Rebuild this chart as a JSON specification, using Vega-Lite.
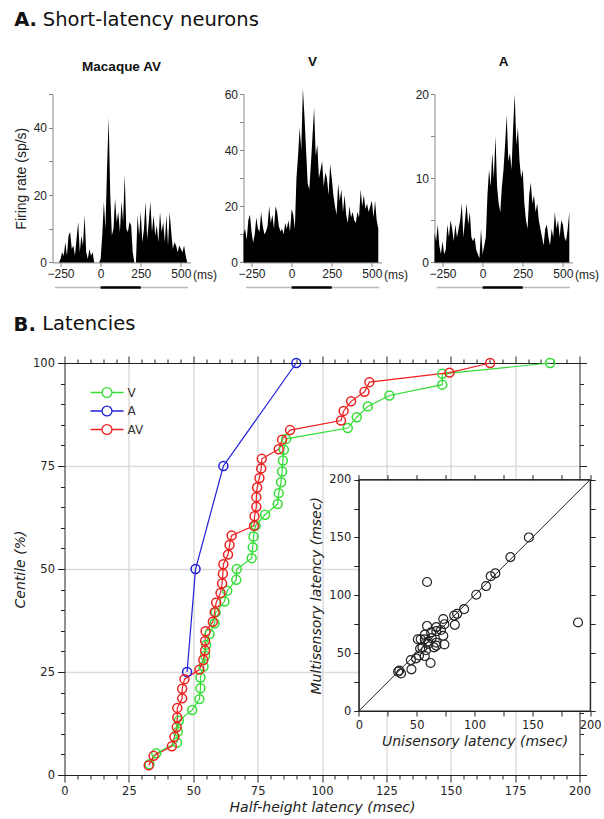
{
  "$schema": "https://vega.github.io/schema/vega-lite/v6.json",
  "padding": {"left": 13.5, "top": 9, "right": 10, "bottom": 0},
  "background": "white",
  "config": {
    "view": {"stroke": null},
    "font": "DejaVu Sans",
    "axis": {"labelColor": "#222", "titleColor": "#222", "domainColor": "#222", "tickColor": "#222", "grid": false, "titleFontWeight": "normal"}
  },
  "datasets": {
    "psth1": [
      {"t":-260,"r":0},{"t":-250,"r":1},{"t":-240,"r":3},{"t":-230,"r":2},{"t":-220,"r":6},{"t":-210,"r":2},{"t":-200,"r":8},{"t":-190,"r":9},{"t":-180,"r":4},{"t":-170,"r":5},{"t":-160,"r":2},{"t":-150,"r":7},{"t":-140,"r":12},{"t":-130,"r":3},{"t":-120,"r":8},{"t":-110,"r":5},{"t":-100,"r":14},{"t":-90,"r":3},{"t":-80,"r":1},{"t":-70,"r":4},{"t":-60,"r":2},{"t":-50,"r":3},{"t":-40,"r":0},{"t":-30,"r":0},{"t":-20,"r":0},{"t":-10,"r":0},
      {"t":0,"r":1},{"t":10,"r":8},{"t":20,"r":18},{"t":30,"r":10},{"t":40,"r":28},{"t":50,"r":43},{"t":60,"r":20},{"t":70,"r":8},{"t":80,"r":10},{"t":90,"r":19},{"t":100,"r":12},{"t":110,"r":15},{"t":120,"r":9},{"t":130,"r":18},{"t":140,"r":12},{"t":150,"r":26},{"t":160,"r":10},{"t":170,"r":9},{"t":180,"r":12},{"t":190,"r":11},{"t":200,"r":3},{"t":210,"r":0},{"t":220,"r":0},{"t":230,"r":14},{"t":240,"r":8},{"t":250,"r":15},{"t":260,"r":6},{"t":270,"r":10},{"t":280,"r":18},{"t":290,"r":7},{"t":300,"r":12},{"t":310,"r":18},{"t":320,"r":9},{"t":330,"r":14},{"t":340,"r":8},{"t":350,"r":11},{"t":360,"r":6},{"t":370,"r":15},{"t":380,"r":9},{"t":390,"r":12},{"t":400,"r":6},{"t":410,"r":14},{"t":420,"r":5},{"t":430,"r":15},{"t":440,"r":9},{"t":450,"r":4},{"t":460,"r":6},{"t":470,"r":5},{"t":480,"r":3},{"t":490,"r":5},{"t":500,"r":4},{"t":510,"r":3},{"t":520,"r":5},{"t":530,"r":2},{"t":540,"r":0}
    ],
    "psth2": [
      {"t":-300,"r":10},{"t":-290,"r":12},{"t":-280,"r":8},{"t":-270,"r":15},{"t":-260,"r":17},{"t":-250,"r":11},{"t":-240,"r":7},{"t":-230,"r":10},{"t":-220,"r":16},{"t":-210,"r":12},{"t":-200,"r":11},{"t":-190,"r":18},{"t":-180,"r":13},{"t":-170,"r":10},{"t":-160,"r":11},{"t":-150,"r":13},{"t":-140,"r":20},{"t":-130,"r":14},{"t":-120,"r":17},{"t":-110,"r":12},{"t":-100,"r":20},{"t":-90,"r":18},{"t":-80,"r":13},{"t":-70,"r":11},{"t":-60,"r":12},{"t":-50,"r":10},{"t":-40,"r":14},{"t":-30,"r":12},{"t":-20,"r":15},{"t":-10,"r":11},
      {"t":0,"r":19},{"t":10,"r":17},{"t":20,"r":12},{"t":30,"r":30},{"t":40,"r":38},{"t":50,"r":48},{"t":60,"r":40},{"t":70,"r":62},{"t":80,"r":52},{"t":90,"r":40},{"t":100,"r":28},{"t":110,"r":26},{"t":120,"r":35},{"t":130,"r":45},{"t":140,"r":55},{"t":150,"r":38},{"t":160,"r":42},{"t":170,"r":30},{"t":180,"r":33},{"t":190,"r":36},{"t":200,"r":27},{"t":210,"r":32},{"t":220,"r":30},{"t":230,"r":24},{"t":240,"r":35},{"t":250,"r":30},{"t":260,"r":24},{"t":270,"r":20},{"t":280,"r":17},{"t":290,"r":28},{"t":300,"r":22},{"t":310,"r":26},{"t":320,"r":18},{"t":330,"r":24},{"t":340,"r":17},{"t":350,"r":14},{"t":360,"r":20},{"t":370,"r":16},{"t":380,"r":18},{"t":390,"r":15},{"t":400,"r":14},{"t":410,"r":18},{"t":420,"r":16},{"t":430,"r":26},{"t":440,"r":20},{"t":450,"r":24},{"t":460,"r":19},{"t":470,"r":21},{"t":480,"r":18},{"t":490,"r":20},{"t":500,"r":22},{"t":510,"r":16},{"t":520,"r":22},{"t":530,"r":15},{"t":540,"r":12}
    ],
    "psth3": [
      {"t":-300,"r":3.5},{"t":-290,"r":2.5},{"t":-280,"r":4.5},{"t":-270,"r":2},{"t":-260,"r":1},{"t":-250,"r":2.5},{"t":-240,"r":1},{"t":-230,"r":1.5},{"t":-220,"r":4.5},{"t":-210,"r":3},{"t":-200,"r":5},{"t":-190,"r":4},{"t":-180,"r":2.5},{"t":-170,"r":4.5},{"t":-160,"r":3},{"t":-150,"r":4},{"t":-140,"r":5},{"t":-130,"r":7},{"t":-120,"r":3},{"t":-110,"r":5},{"t":-100,"r":7},{"t":-90,"r":4.5},{"t":-80,"r":6},{"t":-70,"r":3},{"t":-60,"r":2.5},{"t":-50,"r":3},{"t":-40,"r":1.5},{"t":-30,"r":1},{"t":-20,"r":0.5},{"t":-10,"r":4},
      {"t":0,"r":1},{"t":10,"r":2},{"t":20,"r":3},{"t":30,"r":8},{"t":40,"r":11},{"t":50,"r":9},{"t":60,"r":13},{"t":70,"r":10},{"t":80,"r":15},{"t":90,"r":9},{"t":100,"r":7},{"t":110,"r":6},{"t":120,"r":9},{"t":130,"r":11},{"t":140,"r":14},{"t":150,"r":17.5},{"t":160,"r":12},{"t":170,"r":13},{"t":180,"r":11},{"t":190,"r":16},{"t":200,"r":20},{"t":210,"r":14},{"t":220,"r":16},{"t":230,"r":12},{"t":240,"r":10},{"t":250,"r":11},{"t":260,"r":7},{"t":270,"r":5},{"t":280,"r":4},{"t":290,"r":8},{"t":300,"r":9.5},{"t":310,"r":7},{"t":320,"r":8},{"t":330,"r":6},{"t":340,"r":7},{"t":350,"r":5},{"t":360,"r":4},{"t":370,"r":3},{"t":380,"r":2},{"t":390,"r":4},{"t":400,"r":4.5},{"t":410,"r":3},{"t":420,"r":2},{"t":430,"r":4},{"t":440,"r":3},{"t":450,"r":6},{"t":460,"r":4},{"t":470,"r":5},{"t":480,"r":3},{"t":490,"r":5},{"t":500,"r":4.5},{"t":510,"r":3},{"t":520,"r":2.5},{"t":530,"r":4},{"t":540,"r":6}
    ],
    "stripBase": [{"a": -285, "b": 545}],
    "stripStim": [{"a": 0, "b": 250}],
    "lat": [
      {"s":"V","k":1,"x":33.0,"c":2.63},{"s":"V","k":2,"x":35.6,"c":5.26},{"s":"V","k":3,"x":43.7,"c":7.89},{"s":"V","k":4,"x":44.0,"c":10.53},{"s":"V","k":5,"x":44.4,"c":13.16},{"s":"V","k":6,"x":49.6,"c":15.79},{"s":"V","k":7,"x":52.4,"c":18.42},{"s":"V","k":8,"x":52.8,"c":21.05},{"s":"V","k":9,"x":52.8,"c":23.68},{"s":"V","k":10,"x":54.0,"c":26.32},
      {"s":"V","k":11,"x":54.6,"c":28.95},{"s":"V","k":12,"x":55.0,"c":31.58},{"s":"V","k":13,"x":56.3,"c":34.21},{"s":"V","k":14,"x":58.3,"c":36.84},{"s":"V","k":15,"x":58.7,"c":39.47},{"s":"V","k":16,"x":62.1,"c":42.11},{"s":"V","k":17,"x":63.2,"c":44.74},{"s":"V","k":18,"x":66.7,"c":47.37},{"s":"V","k":19,"x":66.9,"c":50.0},{"s":"V","k":20,"x":72.7,"c":52.63},
      {"s":"V","k":21,"x":73.1,"c":55.26},{"s":"V","k":22,"x":73.4,"c":57.89},{"s":"V","k":23,"x":74.2,"c":60.53},{"s":"V","k":24,"x":77.9,"c":63.16},{"s":"V","k":25,"x":82.8,"c":65.79},{"s":"V","k":26,"x":83.2,"c":68.42},{"s":"V","k":27,"x":84.1,"c":71.05},{"s":"V","k":28,"x":84.5,"c":73.68},{"s":"V","k":29,"x":84.8,"c":76.32},{"s":"V","k":30,"x":85.2,"c":78.95},
      {"s":"V","k":31,"x":86.1,"c":81.58},{"s":"V","k":32,"x":110.0,"c":84.21},{"s":"V","k":33,"x":113.5,"c":86.84},{"s":"V","k":34,"x":117.8,"c":89.47},{"s":"V","k":35,"x":126.2,"c":92.11},{"s":"V","k":36,"x":146.7,"c":94.74},{"s":"V","k":37,"x":146.7,"c":97.37},{"s":"V","k":38,"x":188.6,"c":100},
      {"s":"A","k":1,"x":47.6,"c":25},{"s":"A","k":2,"x":50.9,"c":50},{"s":"A","k":3,"x":61.7,"c":75},{"s":"A","k":4,"x":90.0,"c":100},
      {"s":"AV","k":1,"x":32.7,"c":2.33},{"s":"AV","k":2,"x":34.6,"c":4.65},{"s":"AV","k":3,"x":41.7,"c":6.98},{"s":"AV","k":4,"x":42.7,"c":9.30},{"s":"AV","k":5,"x":43.6,"c":11.63},{"s":"AV","k":6,"x":43.8,"c":13.95},{"s":"AV","k":7,"x":43.8,"c":16.28},{"s":"AV","k":8,"x":45.7,"c":18.60},{"s":"AV","k":9,"x":45.7,"c":20.93},{"s":"AV","k":10,"x":46.6,"c":23.26},
      {"s":"AV","k":11,"x":52.4,"c":25.58},{"s":"AV","k":12,"x":53.9,"c":27.91},{"s":"AV","k":13,"x":54.6,"c":30.23},{"s":"AV","k":14,"x":54.6,"c":32.56},{"s":"AV","k":15,"x":54.8,"c":34.88},{"s":"AV","k":16,"x":57.6,"c":37.21},{"s":"AV","k":17,"x":58.3,"c":39.53},{"s":"AV","k":18,"x":58.9,"c":41.86},{"s":"AV","k":19,"x":60.6,"c":44.19},{"s":"AV","k":20,"x":61.2,"c":46.51},
      {"s":"AV","k":21,"x":61.5,"c":48.84},{"s":"AV","k":22,"x":61.7,"c":51.16},{"s":"AV","k":23,"x":63.5,"c":53.49},{"s":"AV","k":24,"x":64.1,"c":55.81},{"s":"AV","k":25,"x":64.9,"c":58.14},{"s":"AV","k":26,"x":73.6,"c":60.47},{"s":"AV","k":27,"x":73.8,"c":62.79},{"s":"AV","k":28,"x":74.5,"c":65.12},{"s":"AV","k":29,"x":74.5,"c":67.44},{"s":"AV","k":30,"x":74.8,"c":69.77},
      {"s":"AV","k":31,"x":75.7,"c":72.09},{"s":"AV","k":32,"x":76.4,"c":74.42},{"s":"AV","k":33,"x":76.6,"c":76.74},{"s":"AV","k":34,"x":83.2,"c":79.07},{"s":"AV","k":35,"x":84.5,"c":81.40},{"s":"AV","k":36,"x":87.6,"c":83.72},{"s":"AV","k":37,"x":107.4,"c":86.05},{"s":"AV","k":38,"x":108.4,"c":88.37},{"s":"AV","k":39,"x":111.3,"c":90.70},{"s":"AV","k":40,"x":116.5,"c":93.02},
      {"s":"AV","k":41,"x":118.4,"c":95.35},{"s":"AV","k":42,"x":149.5,"c":97.67},{"s":"AV","k":43,"x":165.3,"c":100}
    ],
    "inset": [
      {"u":35,"m":35},{"u":36.5,"m":32.5},{"u":34,"m":34},{"u":45.5,"m":36},{"u":45,"m":44},{"u":49.5,"m":45.5},{"u":52,"m":48},{"u":57,"m":47.5},{"u":62,"m":41.5},{"u":53,"m":54},{"u":55,"m":55},{"u":58,"m":52.5},{"u":60,"m":58},{"u":65,"m":55},{"u":67,"m":56.5},{"u":74,"m":57.5},{"u":53.5,"m":62},{"u":57,"m":62},{"u":60,"m":60},{"u":63,"m":63},{"u":67,"m":59},{"u":51,"m":62},{"u":62.5,"m":68},{"u":57,"m":66},{"u":67,"m":69},{"u":73,"m":65},{"u":59,"m":73.5},{"u":67,"m":72.5},{"u":71,"m":70},{"u":73,"m":79.5},{"u":74,"m":75},{"u":83,"m":74.5},{"u":82.5,"m":82.5},{"u":85,"m":84},{"u":91,"m":88},{"u":101.5,"m":100.5},{"u":110,"m":108},{"u":114,"m":116.5},{"u":118,"m":119},{"u":131,"m":133},{"u":147,"m":150},{"u":59,"m":111.5},{"u":189.5,"m":76.5}
    ],
    "box": [{"x0": 0, "x1": 200, "y0": 0, "y1": 200}],
    "diag": [{"u": 0, "m": 0}, {"u": 200, "m": 200}]
  },
  "spacing": 25,
  "vconcat": [
    {
      "title": {"text": "A.", "subtitle": "\u200b\u00a0\u00a0\u00a0\u00a0\u2009Short-latency neurons", "anchor": "start", "font": "DejaVu Sans", "fontSize": 19.5, "fontWeight": "bold", "color": "#111", "subtitleFont": "DejaVu Sans", "subtitleFontSize": 19.5, "subtitleColor": "#111", "lineHeight": 20, "subtitleLineHeight": 20, "subtitlePadding": -20, "offset": 23.5},
      "bounds": "flush",
      "spacing": 53,
      "hconcat": [
        {
          "width": 138, "height": 168.4,
          "title": {"text": "Macaque AV", "font": "Liberation Sans", "fontSize": 13.5, "fontWeight": "bold", "color": "#111", "offset": 20, "dx": -12},
          "layer": [
            {"mark": {"type": "rule", "color": "#d4d4d4", "strokeWidth": 1}, "encoding": {"x": {"datum": 0, "type": "quantitative", "scale": {"domain": [-300, 560], "range": [-12, 126], "nice": false}}}},
            {"data": {"name": "psth1"}, "mark": {"type": "area", "color": "#000", "interpolate": "linear"},
             "encoding": {
               "x": {"field": "t", "type": "quantitative", "scale": {"domain": [-300, 560], "range": [-12, 126], "nice": false},
                     "axis": {"values": [-250, 0, 250, 500], "title": "(ms)", "titleX": 140, "titleY": 16, "titleAlign": "center", "titleBaseline": "alphabetic", "titleFont": "Liberation Sans", "titleFontSize": 12, "labelFont": "Liberation Sans", "labelFontSize": 12, "tickSize": 4, "labelPadding": 2, "domainColor": "#888", "tickColor": "#888", "labelFlush": false}},
               "y": {"field": "r", "type": "quantitative", "scale": {"domain": [0, 50], "nice": false},
                     "axis": {"offset": 12, "values": [0, 10, 20, 30, 40, 50], "labelExpr": "datum.value % 20 === 0 ? datum.label : ''", "title": "Firing rate (sp/s)", "titleFont": "Liberation Sans", "titleFontSize": 14, "titlePadding": 5, "labelFont": "Liberation Sans", "labelFontSize": 12, "tickSize": 4, "labelPadding": 2, "domainColor": "#888", "tickColor": "#888"}}
             }},
            {"data": {"name": "stripBase"}, "mark": {"type": "rule", "color": "#b8b8b8", "strokeWidth": 1.5},
             "encoding": {"x": {"field": "a", "type": "quantitative"}, "x2": {"field": "b"}, "y": {"datum": 0, "type": "quantitative", "scale": {"domain": [0, 1], "range": [193.4, 193.4]}, "axis": null}}},
            {"data": {"name": "stripStim"}, "mark": {"type": "rule", "color": "#000", "strokeWidth": 2.5},
             "encoding": {"x": {"field": "a", "type": "quantitative"}, "x2": {"field": "b"}, "y": {"datum": 0, "type": "quantitative", "scale": {"domain": [0, 1], "range": [193.4, 193.4]}, "axis": null}}}
          ],
          "resolve": {"scale": {"y": "independent"}}
        },
        {
          "width": 138, "height": 168.4,
          "title": {"text": "V", "font": "Liberation Sans", "fontSize": 13.5, "fontWeight": "bold", "color": "#111", "offset": 20, "dx": -12},
          "layer": [
            {"mark": {"type": "rule", "color": "#999", "strokeWidth": 1, "strokeDash": [1, 2]}, "encoding": {"x": {"datum": 0, "type": "quantitative", "scale": {"domain": [-300, 560], "range": [-12, 126], "nice": false}}}},
            {"data": {"name": "psth2"}, "mark": {"type": "area", "color": "#000", "interpolate": "linear"},
             "encoding": {
               "x": {"field": "t", "type": "quantitative", "scale": {"domain": [-300, 560], "range": [-12, 126], "nice": false},
                     "axis": {"values": [-250, 0, 250, 500], "title": "(ms)", "titleX": 140, "titleY": 16, "titleAlign": "center", "titleBaseline": "alphabetic", "titleFont": "Liberation Sans", "titleFontSize": 12, "labelFont": "Liberation Sans", "labelFontSize": 12, "tickSize": 4, "labelPadding": 2, "domainColor": "#888", "tickColor": "#888", "labelFlush": false}},
               "y": {"field": "r", "type": "quantitative", "scale": {"domain": [0, 60], "nice": false},
                     "axis": {"offset": 12, "values": [0, 10, 20, 30, 40, 50, 60], "labelExpr": "datum.value % 20 === 0 ? datum.label : ''", "title": null, "labelFont": "Liberation Sans", "labelFontSize": 12, "tickSize": 4, "labelPadding": 2, "domainColor": "#888", "tickColor": "#888"}}
             }},
            {"data": {"name": "stripBase"}, "mark": {"type": "rule", "color": "#b8b8b8", "strokeWidth": 1.5},
             "encoding": {"x": {"field": "a", "type": "quantitative"}, "x2": {"field": "b"}, "y": {"datum": 0, "type": "quantitative", "scale": {"domain": [0, 1], "range": [193.4, 193.4]}, "axis": null}}},
            {"data": {"name": "stripStim"}, "mark": {"type": "rule", "color": "#000", "strokeWidth": 2.5},
             "encoding": {"x": {"field": "a", "type": "quantitative"}, "x2": {"field": "b"}, "y": {"datum": 0, "type": "quantitative", "scale": {"domain": [0, 1], "range": [193.4, 193.4]}, "axis": null}}}
          ],
          "resolve": {"scale": {"y": "independent"}}
        },
        {
          "width": 138, "height": 168.4,
          "title": {"text": "A", "font": "Liberation Sans", "fontSize": 13.5, "fontWeight": "bold", "color": "#111", "offset": 20, "dx": -12},
          "layer": [
            {"mark": {"type": "rule", "color": "#d4d4d4", "strokeWidth": 1}, "encoding": {"x": {"datum": 0, "type": "quantitative", "scale": {"domain": [-300, 560], "range": [-12, 126], "nice": false}}}},
            {"data": {"name": "psth3"}, "mark": {"type": "area", "color": "#000", "interpolate": "linear"},
             "encoding": {
               "x": {"field": "t", "type": "quantitative", "scale": {"domain": [-300, 560], "range": [-12, 126], "nice": false},
                     "axis": {"values": [-250, 0, 250, 500], "title": "(ms)", "titleX": 140, "titleY": 16, "titleAlign": "center", "titleBaseline": "alphabetic", "titleFont": "Liberation Sans", "titleFontSize": 12, "labelFont": "Liberation Sans", "labelFontSize": 12, "tickSize": 4, "labelPadding": 2, "domainColor": "#888", "tickColor": "#888", "labelFlush": false}},
               "y": {"field": "r", "type": "quantitative", "scale": {"domain": [0, 20], "nice": false},
                     "axis": {"offset": 12, "values": [0, 5, 10, 15, 20], "labelExpr": "datum.value % 10 === 0 ? datum.label : ''", "title": null, "labelFont": "Liberation Sans", "labelFontSize": 12, "tickSize": 4, "labelPadding": 2, "domainColor": "#888", "tickColor": "#888"}}
             }},
            {"data": {"name": "stripBase"}, "mark": {"type": "rule", "color": "#b8b8b8", "strokeWidth": 1.5},
             "encoding": {"x": {"field": "a", "type": "quantitative"}, "x2": {"field": "b"}, "y": {"datum": 0, "type": "quantitative", "scale": {"domain": [0, 1], "range": [193.4, 193.4]}, "axis": null}}},
            {"data": {"name": "stripStim"}, "mark": {"type": "rule", "color": "#000", "strokeWidth": 2.5},
             "encoding": {"x": {"field": "a", "type": "quantitative"}, "x2": {"field": "b"}, "y": {"datum": 0, "type": "quantitative", "scale": {"domain": [0, 1], "range": [193.4, 193.4]}, "axis": null}}}
          ],
          "resolve": {"scale": {"y": "independent"}}
        }
      ]
    },
    {
      "title": {"text": "B.", "subtitle": "\u200b\u00a0\u00a0\u00a0\u00a0\u2009Latencies", "anchor": "start", "font": "DejaVu Sans", "fontSize": 19.5, "fontWeight": "bold", "color": "#111", "subtitleFont": "DejaVu Sans", "subtitleFontSize": 19.5, "subtitleColor": "#111", "lineHeight": 20, "subtitleLineHeight": 20, "subtitlePadding": -20, "offset": 20},
      "width": 515,
      "height": 412,
      "layer": [
        {
          "layer": [
            {"data": {"name": "lat"}, "mark": {"type": "line", "strokeWidth": 1.2},
             "encoding": {
               "x": {"field": "x", "type": "quantitative", "scale": {"domain": [0, 200], "nice": false},
                     "axis": {"orient": "bottom", "values": [0,5,10,15,20,25,30,35,40,45,50,55,60,65,70,75,80,85,90,95,100,105,110,115,120,125,130,135,140,145,150,155,160,165,170,175,180,185,190,195,200], "labelExpr": "datum.value % 25 === 0 ? datum.label : ''", "labelOverlap": false, "labelFlush": false, "tickSize": {"condition": {"test": "datum.value % 25 === 0", "value": 7}, "value": 4}, "grid": true, "gridColor": "#dcdcdc", "gridWidth": 1.5, "gridOpacity": {"condition": {"test": "datum.value % 25 === 0 && datum.value > 0 && datum.value < 200", "value": 1}, "value": 0}, "title": "Half-height latency (msec)", "titleFontStyle": "italic", "titleFontSize": 14, "titlePadding": 4, "labelFontSize": 11.5, "labelPadding": 3}},
               "y": {"field": "c", "type": "quantitative", "scale": {"domain": [0, 100], "nice": false},
                     "axis": {"orient": "left", "values": [0,5,10,15,20,25,30,35,40,45,50,55,60,65,70,75,80,85,90,95,100], "labelExpr": "datum.value % 25 === 0 ? datum.label : ''", "labelOverlap": false, "labelFlush": false, "tickSize": {"condition": {"test": "datum.value % 25 === 0", "value": 7}, "value": 4}, "grid": true, "gridColor": "#dcdcdc", "gridWidth": 1.5, "gridOpacity": {"condition": {"test": "datum.value % 25 === 0 && datum.value > 0 && datum.value < 100", "value": 1}, "value": 0}, "title": "Centile (%)", "titleFontStyle": "italic", "titleFontSize": 14, "titlePadding": 5, "labelFontSize": 11.5, "labelPadding": 3}},
               "color": {"field": "s", "type": "nominal", "scale": {"domain": ["V", "A", "AV"], "range": ["#33dd33", "#2020d8", "#ee2020"]},
                         "legend": {"orient": "none", "legendX": 36, "legendY": 292, "title": null, "symbolType": "M-3,0L-0.9,0M0.9,0L3,0M-0.9,0A0.9,0.9,0,1,1,0.9,0A0.9,0.9,0,1,1,-0.9,0", "symbolSize": 121, "symbolStrokeWidth": 1.3, "symbolFillColor": "transparent", "labelOffset": 14, "labelFontSize": 12, "labelFont": "DejaVu Sans", "labelColor": "#333", "rowPadding": 1.5, "padding": 0}},
               "order": {"field": "k", "type": "quantitative"}
             }},
            {"data": {"name": "lat"}, "mark": {"type": "point", "filled": false, "size": 80, "strokeWidth": 1.5, "opacity": 1},
             "encoding": {
               "x": {"field": "x", "type": "quantitative", "scale": {"domain": [0, 200], "nice": false},
                     "axis": {"orient": "top", "values": [0,5,10,15,20,25,30,35,40,45,50,55,60,65,70,75,80,85,90,95,100,105,110,115,120,125,130,135,140,145,150,155,160,165,170,175,180,185,190,195,200], "labels": false, "title": null, "grid": false, "tickSize": {"condition": {"test": "datum.value % 25 === 0", "value": 7}, "value": 4}}},
               "y": {"field": "c", "type": "quantitative", "scale": {"domain": [0, 100], "nice": false},
                     "axis": {"orient": "right", "values": [0,5,10,15,20,25,30,35,40,45,50,55,60,65,70,75,80,85,90,95,100], "labels": false, "title": null, "grid": false, "tickSize": {"condition": {"test": "datum.value % 25 === 0", "value": 7}, "value": 4}}},
               "color": {"field": "s", "type": "nominal", "scale": {"domain": ["V", "A", "AV"], "range": ["#33dd33", "#2020d8", "#ee2020"]},
                         "legend": {"orient": "none", "legendX": 36, "legendY": 292, "title": null, "symbolType": "M-3,0L-0.9,0M0.9,0L3,0M-0.9,0A0.9,0.9,0,1,1,0.9,0A0.9,0.9,0,1,1,-0.9,0", "symbolSize": 121, "symbolStrokeWidth": 1.3, "symbolFillColor": "transparent", "labelOffset": 14, "labelFontSize": 12, "labelFont": "DejaVu Sans", "labelColor": "#333", "rowPadding": 1.5, "padding": 0}}
             }}
          ],
          "resolve": {"axis": {"x": "independent", "y": "independent"}}
        },
        {
          "layer": [
            {"data": {"name": "box"}, "mark": {"type": "rect", "fill": "white", "stroke": "#222", "strokeWidth": 1},
             "encoding": {
               "x": {"field": "x0", "type": "quantitative", "scale": {"domain": [0, 200], "range": [294.3, 525.7], "nice": false},
                     "axis": {"orient": "bottom", "offset": -64, "zindex": 1, "values": [0,25,50,75,100,125,150,175,200], "labelExpr": "datum.value % 50 === 0 ? datum.label : ''", "labelOverlap": false, "labelFlush": false, "tickSize": 5, "grid": false, "title": "Unisensory latency (msec)", "titleFontStyle": "italic", "titleFontSize": 14, "titlePadding": 4, "labelFontSize": 11.5, "labelPadding": 3}},
               "x2": {"field": "x1"},
               "y": {"field": "y0", "type": "quantitative", "scale": {"domain": [0, 200], "range": [348, 116.6], "nice": false},
                     "axis": {"orient": "left", "offset": -294.3, "zindex": 1, "values": [0,25,50,75,100,125,150,175,200], "labelExpr": "datum.value % 50 === 0 ? datum.label : ''", "labelOverlap": false, "labelFlush": false, "tickSize": 5, "grid": false, "title": "Multisensory latency (msec)", "titleFontStyle": "italic", "titleFontSize": 14, "titlePadding": 5, "labelFontSize": 11.5, "labelPadding": 3}},
               "y2": {"field": "y1"}
             }},
            {"data": {"name": "diag"}, "mark": {"type": "line", "color": "#222", "strokeWidth": 1},
             "encoding": {
               "x": {"field": "u", "type": "quantitative", "scale": {"domain": [0, 200], "range": [294.3, 525.7], "nice": false},
                     "axis": {"orient": "top", "offset": -116.6, "zindex": 1, "values": [0,25,50,75,100,125,150,175,200], "labels": false, "title": null, "grid": false, "tickSize": 5}},
               "y": {"field": "m", "type": "quantitative", "scale": {"domain": [0, 200], "range": [348, 116.6], "nice": false},
                     "axis": {"orient": "right", "offset": 10.7, "zindex": 1, "values": [0,25,50,75,100,125,150,175,200], "labels": false, "title": null, "grid": false, "tickSize": 5}}
             }},
            {"data": {"name": "inset"}, "mark": {"type": "point", "filled": false, "size": 80, "color": "#222", "strokeWidth": 1.2, "opacity": 1},
             "encoding": {
               "x": {"field": "u", "type": "quantitative", "scale": {"domain": [0, 200], "range": [294.3, 525.7], "nice": false}, "axis": null},
               "y": {"field": "m", "type": "quantitative", "scale": {"domain": [0, 200], "range": [348, 116.6], "nice": false}, "axis": null}
             }}
          ],
          "resolve": {"axis": {"x": "independent", "y": "independent"}}
        }
      ],
      "resolve": {"scale": {"x": "independent", "y": "independent"}}
    }
  ]
}
